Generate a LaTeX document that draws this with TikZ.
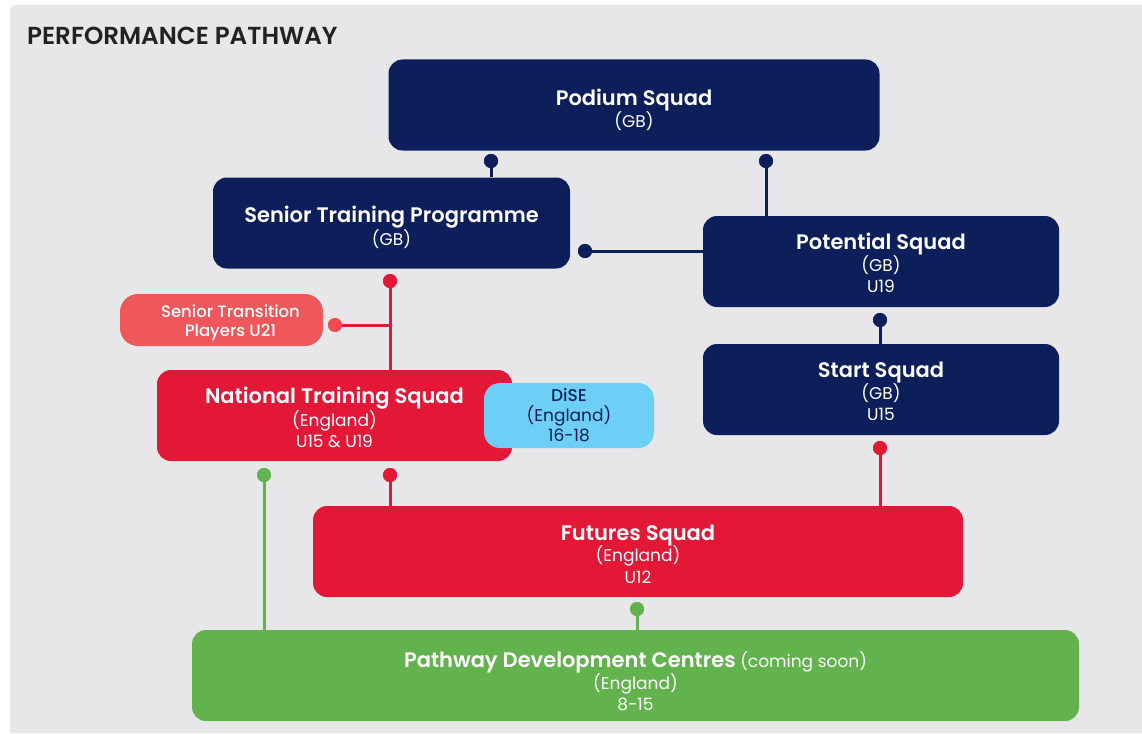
\documentclass[tikz,border=0pt]{standalone}
\usepackage{fontspec}
\setmainfont{Poppins}
\newfontfamily\semib{Poppins SemiBold}
\newfontfamily\medium{Poppins Medium}
\usetikzlibrary{positioning}

\definecolor{navy}{RGB}{13,31,91}
\definecolor{crimson}{RGB}{227,24,55}
\definecolor{salmon}{RGB}{238,88,90}
\definecolor{skyblue}{RGB}{109,207,246}
\definecolor{grass}{RGB}{98,179,77}
\definecolor{panel}{RGB}{231,231,233}
\definecolor{ink}{RGB}{34,34,34}

% box heading, the strut pushes the text block down a little
\newcommand{\squadname}[2][20]{{\fontsize{21}{22}\semib\rule{0pt}{#1pt}#2}}
\newcommand{\squadsub}{\fontsize{17}{21.5}\selectfont}

\tikzstyle{squad} = [rectangle, rounded corners=14pt, inner sep=0pt,
    align=center, text=white, font=\squadsub, minimum height=91pt]
\tikzstyle{gbbox} = [squad, fill=navy]
\tikzstyle{engbox} = [squad, fill=crimson]
\tikzstyle{link} = [draw, line width=3pt]
\tikzstyle{knob} = [circle, inner sep=0pt, minimum size=14pt]

\begin{document}
\begin{tikzpicture}[x=1pt, y=-1pt]
    \useasboundingbox (0,0) rectangle (1142,733);
    \fill[white] (0,0) rectangle (1142,733);
    \fill[panel] (10,733) [rounded corners=6pt] -- (10,5) [sharp corners] -- (1142,5) -- (1142,733) -- cycle;

    \node [anchor=base west, inner sep=0pt, text=ink, font=\fontsize{24.6}{28}\semib] (heading) at (27,45) {PERFORMANCE PATHWAY};

    % Place nodes
    \node [gbbox, minimum width=491pt] (podium) at (634,105) {\squadname[26]{Podium Squad}\\(GB)};
    \node [gbbox, minimum width=357pt] (senior) at (391.5,223) {\squadname[25]{Senior Training Programme}\\(GB)};
    \node [gbbox, minimum width=356pt] (potential) at (881,261.5) {\squadname{Potential Squad}\\(GB)\\U19};
    \node [gbbox, minimum width=356pt] (start) at (881,389.5) {\squadname{Start Squad}\\(GB)\\U15};
    \node [squad, fill=salmon, minimum width=203pt, minimum height=52pt, rounded corners=18pt,
        font=\fontsize{16.5}{19}\medium] (transition) at (221.5,320)
        {\hspace*{18pt}\rule{0pt}{18pt}Senior Transition\\\hspace*{18pt}Players U21};
    \node [engbox, minimum width=355pt] (national) at (334.5,415.5) {\squadname[21]{National Training Squad}\\(England)\\U15 \& U19};
    \node [squad, fill=skyblue, text=navy, minimum width=170pt, minimum height=65pt, rounded corners=16pt,
        font=\fontsize{17}{20}\selectfont] (dise) at (569,415.5) {{\medium DiSE}\\(England)\\16-18};
    \node [engbox, minimum width=650pt] (futures) at (638,551.5) {\squadname[21]{Futures Squad}\\(England)\\U12};
    \node [squad, fill=grass, minimum width=887pt] (pdc) at (635.5,675.5)
        {\squadname[28]{Pathway Development Centres} (coming soon)\\(England)\\8-15};

    % Place knobs
    \node [knob, fill=navy] (k1) at (491,161) {};
    \node [knob, fill=navy] (k2) at (766,161) {};
    \node [knob, fill=navy] (k3) at (585,251) {};
    \node [knob, fill=navy] (k4) at (880,320) {};
    \node [knob, fill=crimson] (k5) at (390,281) {};
    \node [knob, fill=salmon!85!crimson] (k6) at (335,325) {};
    \node [knob, fill=crimson] (k7) at (390,475) {};
    \node [knob, fill=crimson] (k8) at (880,448) {};
    \node [knob, fill=grass] (k9) at (264,475) {};
    \node [knob, fill=grass] (k10) at (637,609) {};

    % Draw edges
    \path [link, navy] (k1.center) -- (k1 |- senior.north);
    \path [link, navy] (k2.center) -- (k2 |- potential.north);
    \path [link, navy] (k3.center) -- (k3 -| potential.west);
    \path [link, navy] (k4.center) -- (k4 |- start.north);
    \path [link, crimson] (k5.center) -- (k5 |- national.north);
    \path [link, crimson] (k6.center) -- (k6 -| k5);
    \path [link, crimson] (k7.center) -- (k7 |- futures.north);
    \path [link, crimson] (k8.center) -- (k8 |- futures.north);
    \path [link, grass] (k9.center) -- (k9 |- pdc.north);
    \path [link, grass] (k10.center) -- (k10 |- pdc.north);

    % Knobs over the line ends
    \foreach \k in {k1,k2,k3,k4} \fill[navy] (\k) circle (7pt);
    \foreach \k in {k5,k7,k8} \fill[crimson] (\k) circle (7pt);
    \fill[salmon!85!crimson] (k6) circle (7pt);
    \foreach \k in {k9,k10} \fill[grass] (\k) circle (7pt);
\end{tikzpicture}
\end{document}
